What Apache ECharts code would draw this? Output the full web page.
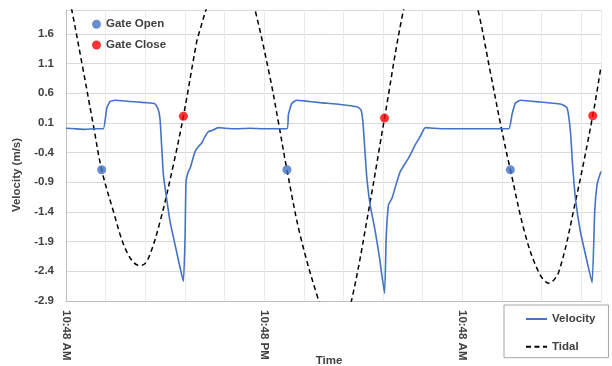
<!DOCTYPE html>
<html>
<head>
<meta charset="utf-8">
<script src="https://cdn.jsdelivr.net/npm/echarts@6/dist/echarts.min.js"></script>
<style>
html,body{margin:0;padding:0;background:#fff;}
#chart{width:612px;height:366px;}
</style>
</head>
<body>
<div id="chart"></div>
<script>
// Hours elapsed since 10:48 AM
const velHours = [0.00,0.55,1.15,1.76,2.26,2.47,2.67,2.97,3.88,4.79,5.39,5.59,5.70,5.80,5.90,6.06,6.30,6.61,6.91,7.11,7.21,7.27,7.41,7.52,7.82,8.02,8.22,8.42,8.62,8.83,9.23,9.64,10.24,11.15,12.06,13.38,13.47,13.68,13.98,14.38,15.39,16.61,17.62,17.86,17.98,18.12,18.22,18.42,18.73,18.99,19.29,19.39,19.53,19.74,20.04,20.24,20.75,21.15,21.45,21.76,22.26,22.97,23.88,25.09,26.81,27.01,27.21,27.52,28.73,30.04,30.35,30.55,30.68,30.85,31.15,31.56,31.86,32.02,32.16,32.30,32.40];
const velValues = [0.01,0.00,-0.01,0.00,0.00,0.35,0.46,0.48,0.46,0.44,0.42,0.32,0.15,-0.33,-0.78,-1.11,-1.56,-1.96,-2.34,-2.57,-1.84,-0.89,-0.72,-0.66,-0.38,-0.30,-0.24,-0.13,-0.05,-0.03,0.02,0.01,0.00,0.01,0.00,0.00,0.24,0.43,0.48,0.47,0.44,0.41,0.37,0.32,0.12,-0.44,-0.83,-1.28,-1.73,-2.18,-2.77,-1.84,-1.28,-1.17,-0.89,-0.72,-0.49,-0.27,-0.13,0.02,0.01,0.00,0.00,0.00,0.00,0.24,0.43,0.48,0.45,0.41,0.35,-0.05,-0.61,-1.17,-1.73,-2.24,-2.59,-1.39,-0.94,-0.80,-0.72];

const tideHours = [0.00,0.35,1.00,1.65,2.16,2.87,3.58,4.28,4.59,4.99,5.70,6.50,7.11,7.92,8.12,8.53,9.20,10.00,10.80,11.45,12.36,12.87,13.38,14.18,15.29,15.80,16.30,16.80,17.30,18.42,19.29,20.44,21.50,22.70,23.90,24.95,25.70,26.41,26.91,27.82,28.62,29.23,29.84,30.85,31.90,32.40];
const tideValues = [2.45,2.00,1.05,0.07,-0.69,-1.39,-2.01,-2.29,-2.30,-2.18,-1.56,-0.61,0.21,1.47,1.67,2.05,2.60,2.85,2.60,2.00,0.86,0.10,-0.69,-1.79,-2.88,-3.20,-3.33,-3.20,-2.88,-1.23,0.18,2.00,3.10,3.45,3.10,2.00,0.95,-0.05,-0.69,-1.79,-2.41,-2.60,-2.41,-1.23,0.22,1.05];

const gateOpenHours = [2.16,13.38,26.91];
const gateOpenValues = [-0.69,-0.69,-0.69];
const gateCloseHours = [7.11,19.29,31.90];
const gateCloseValues = [0.21,0.18,0.22];

const xTickHours = [0,12,24];
const xTickLabels = ['10:48 AM','10:48 PM','10:48 AM'];

const zip = (xs, ys) => xs.map((x, i) => [x, ys[i]]);
const FONT = 'Liberation Sans';
const TXT = '#404040';

const chart = echarts.init(document.getElementById('chart'), null, {renderer:'canvas'});
chart.setOption({
  animation: false,
  backgroundColor: '#ffffff',
  grid: {left: 66, right: 11, top: 10, bottom: 65, containLabel: false},
  xAxis: {
    type: 'value', min: 0, max: 32.4, interval: 2.4,
    axisLine: {show: true, onZero: false, lineStyle: {color: '#bfbfbf', width: 1}},
    axisTick: {show: false},
    splitLine: {show: true, lineStyle: {color: '#ebebeb', width: 1}},
    axisLabel: {
      rotate: -90, margin: 9, fontFamily: FONT, fontWeight: 'bold', fontSize: 11.5, color: TXT,
      formatter: function (v) {
        for (let i = 0; i < xTickHours.length; i++) {
          if (Math.abs(v - xTickHours[i]) < 1e-6) return xTickLabels[i];
        }
        return '';
      }
    }
  },
  yAxis: {
    type: 'value', min: -2.9, max: 2.0, interval: 0.5,
    axisLine: {show: true, lineStyle: {color: '#bfbfbf', width: 1}},
    axisTick: {show: false},
    splitLine: {show: true, lineStyle: {color: '#d9d9d9', width: 1}},
    axisLabel: {
      showMaxLabel: false, margin: 12, fontFamily: FONT, fontWeight: 'bold', fontSize: 11.5, color: TXT,
      formatter: v => v.toFixed(1)
    }
  },
  legend: [
    {
      data: ['Velocity', 'Tidal'], orient: 'vertical', left: 504, top: 305,
      padding: [7, 13, 4, 21], itemWidth: 21, itemHeight: 14, itemGap: 13.7,
      borderColor: '#a6a6a6', borderWidth: 1, selectedMode: false,
      itemStyle: {opacity: 0},
      textStyle: {fontFamily: FONT, fontWeight: 'bold', fontSize: 11.5, color: TXT, lineHeight: 14}
    },
    {
      data: ['Gate Open', 'Gate Close'], orient: 'vertical', left: 92, top: 17.3,
      padding: 0, itemWidth: 9, itemHeight: 9, itemGap: 6.7, icon: 'circle', selectedMode: false,
      textStyle: {fontFamily: FONT, fontWeight: 'bold', fontSize: 11.5, color: TXT, lineHeight: 14}
    }
  ],
  graphic: [
    {type: 'text', x: 17, y: 175, rotation: Math.PI / 2,
     style: {text: 'Velocity (m/s)', fontFamily: FONT, fontWeight: 'bold', fontSize: 11.5, fill: TXT,
       textAlign: 'center', textVerticalAlign: 'middle'}},
    {type: 'text', x: 329, y: 361,
     style: {text: 'Time', fontFamily: FONT, fontWeight: 'bold', fontSize: 11.5, fill: TXT,
       textAlign: 'center', textVerticalAlign: 'middle'}}
  ],
  series: [
    {name: 'Velocity', type: 'line', data: zip(velHours, velValues), symbol: 'none', smooth: 0.15,
     clip: true, lineStyle: {color: '#4472C4', width: 1.6}, itemStyle: {color: '#4472C4'}, z: 3},
    {name: 'Tidal', type: 'line', data: zip(tideHours, tideValues), symbol: 'none', smooth: 0.35,
     clip: true, lineStyle: {color: '#000000', width: 1.5, type: [5, 3.5]}, itemStyle: {color: '#000000'}, z: 2},
    {name: 'Gate Open', type: 'scatter', data: zip(gateOpenHours, gateOpenValues), symbol: 'circle',
     symbolSize: 9, itemStyle: {color: '#4472C4'}, z: 5},
    {name: 'Gate Close', type: 'scatter', data: zip(gateCloseHours, gateCloseValues), symbol: 'circle',
     symbolSize: 9, itemStyle: {color: '#ff0000'}, z: 5}
  ]
});
</script>
</body>
</html>
